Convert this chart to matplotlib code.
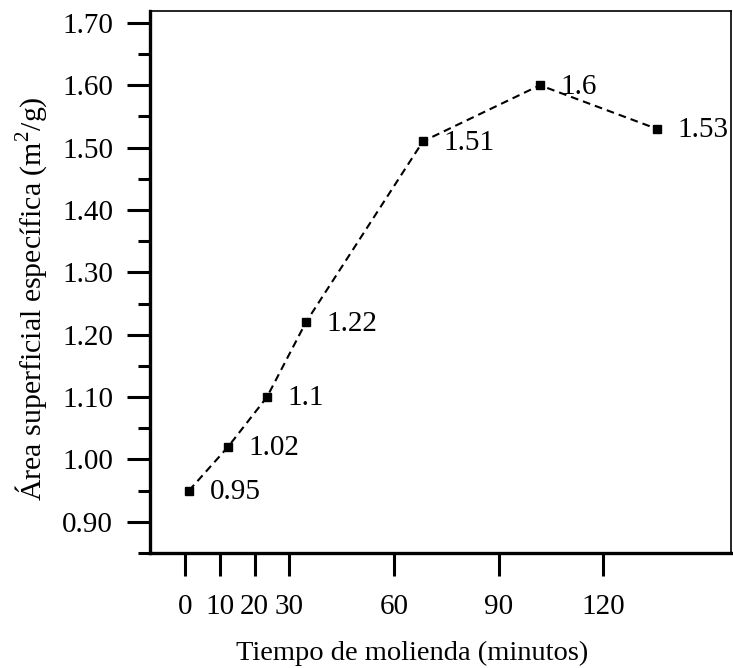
import matplotlib.pyplot as plt
from matplotlib.ticker import MultipleLocator

plt.rcParams['font.family'] = ['Liberation Serif', 'DejaVu Serif']
plt.rcParams['mathtext.fontset'] = 'custom'
plt.rcParams['mathtext.rm'] = 'Liberation Serif'

# data
tiempo = [0, 10, 20, 30, 60, 90, 120]
area = [0.95, 1.02, 1.10, 1.22, 1.51, 1.60, 1.53]
etiquetas = ["0.95", "1.02", "1.1", "1.22", "1.51", "1.6", "1.53"]
y_ticks = [0.90, 1.00, 1.10, 1.20, 1.30, 1.40, 1.50, 1.60, 1.70]

fig = plt.figure(figsize=(7.33, 6.68), dpi=100)
ax = fig.add_axes([0.2046, 0.1722, 0.7927, 0.8113])

# in the original the points use a slightly different x scale than the tick axis,
# so the series goes on a twin axes with its own limits
ax_datos = ax.twiny()
ax_datos.plot(tiempo, area, linestyle=(0, (3.7, 2.4)), color='black', linewidth=1.5,
              marker='s', markersize=5.5, markerfacecolor='black', markeredgecolor='black')
for x, y, t in zip(tiempo, area, etiquetas):
    ax_datos.annotate(t, (x, y), xytext=(15, -1), textcoords='offset points',
                      fontsize=21, va='center', ha='left')
ax_datos.set_xlim(-10, 139)
ax_datos.set_ylim(0.85, 1.719)
ax_datos.set_xticks([])
ax_datos.axis('off')

ax.set_xlim(-10, 156.7)
ax.set_ylim(0.85, 1.719)
ax.set_xticks(tiempo)
ax.set_yticks(y_ticks)
ax.set_yticklabels(["%.2f" % v for v in y_ticks])
ax.yaxis.set_minor_locator(MultipleLocator(0.05))

ax.tick_params(axis='both', which='major', direction='out', length=16.5, width=2.2,
               labelsize=21)
ax.tick_params(axis='y', which='major', pad=10)
ax.tick_params(axis='x', which='major', pad=13)
ax.tick_params(axis='y', which='minor', direction='out', length=8.6, width=2.2)
ax.tick_params(top=False, right=False)

ax.spines['left'].set_linewidth(2.4)
ax.spines['bottom'].set_linewidth(2.4)
ax.spines['top'].set_linewidth(1.2)
ax.spines['right'].set_linewidth(1.2)

ax.set_xlabel("Tiempo de molienda (minutos)", fontsize=20.5)
ax.set_ylabel("Área superficial específica (m$^2$/g)", fontsize=21.5)
ax.xaxis.set_label_coords(0.451, -0.162)
ax.yaxis.set_label_coords(-0.173, 0.469)

fig.savefig("out.png", dpi=100)
